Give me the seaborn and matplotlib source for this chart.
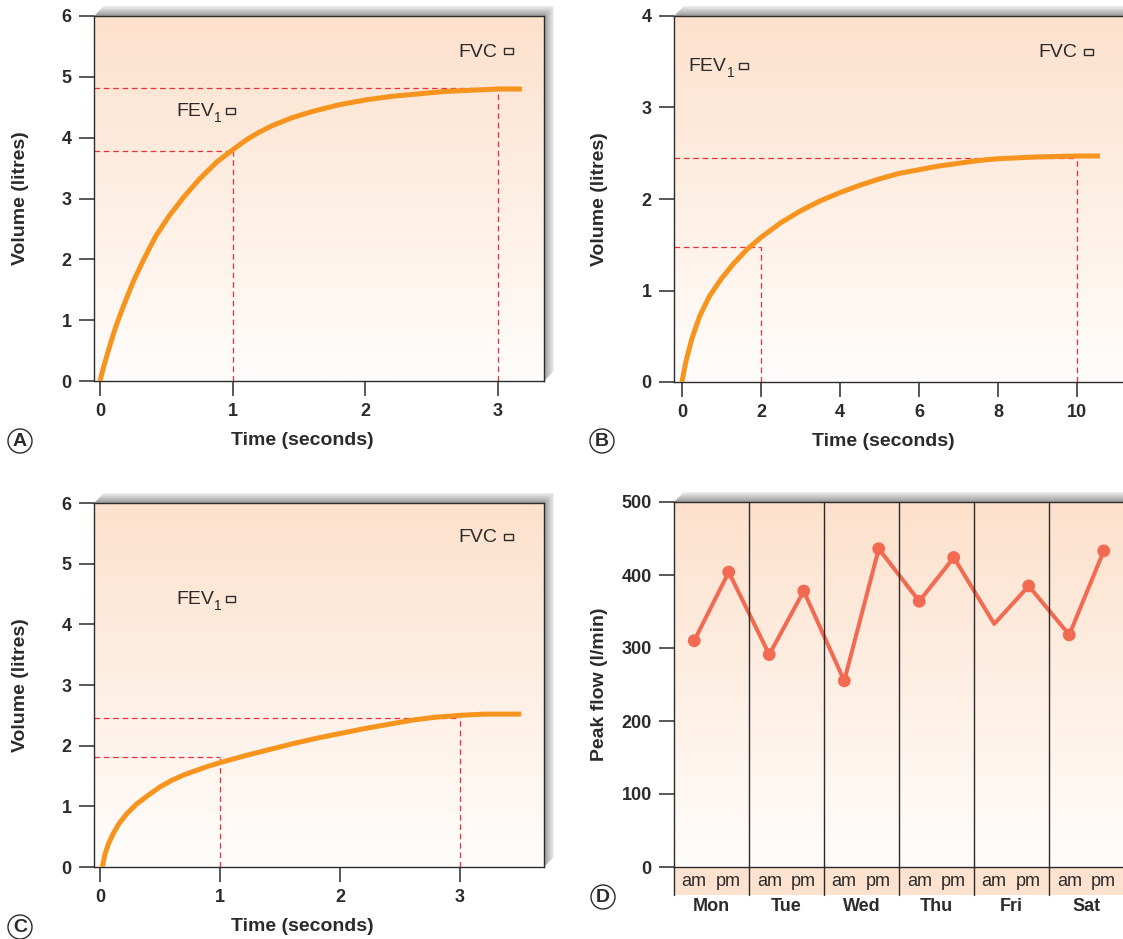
import numpy as np
import pandas as pd
import seaborn as sns
import matplotlib.pyplot as plt
import matplotlib.transforms as mtransforms
from matplotlib.colors import LinearSegmentedColormap
from matplotlib.patches import Polygon, Circle, Rectangle
from matplotlib.offsetbox import DrawingArea, AnnotationBbox

# Panel A - volume/time trace
a_time = [0, 0.03, 0.07, 0.12, 0.18, 0.25, 0.33, 0.42, 0.52, 0.63, 0.75, 0.88, 1.0,
          1.1, 1.2, 1.3, 1.45, 1.6, 1.8, 2.0, 2.2, 2.4, 2.6, 2.8, 3.0, 3.18]
a_volume = [0, 0.25, 0.55, 0.90, 1.25, 1.63, 2.0, 2.38, 2.71, 3.02, 3.32, 3.60, 3.80,
            3.96, 4.09, 4.20, 4.33, 4.43, 4.54, 4.62, 4.68, 4.72, 4.76, 4.78, 4.80, 4.80]
a_fev1 = (1, 3.78)
a_fvc = (3, 4.81)

# Panel B
b_time = [0, 0.1, 0.25, 0.45, 0.7, 1.0, 1.3, 1.65, 2.0, 2.5, 3.0, 3.5, 4.0, 4.5, 5.0,
          5.5, 6.0, 6.5, 7.0, 7.5, 8.0, 8.5, 9.0, 9.5, 10.0, 10.58]
b_volume = [0, 0.22, 0.47, 0.72, 0.94, 1.13, 1.29, 1.45, 1.58, 1.74, 1.87, 1.98, 2.07,
            2.15, 2.22, 2.28, 2.32, 2.36, 2.39, 2.42, 2.44, 2.45, 2.46, 2.465, 2.47, 2.47]
b_fev1 = (2, 1.47)
b_fvc = (10, 2.45)

# Panel C
c_time = [0.02, 0.04, 0.07, 0.11, 0.16, 0.22, 0.3, 0.4, 0.5, 0.6, 0.7, 0.8, 0.9, 1.0,
          1.2, 1.4, 1.6, 1.8, 2.0, 2.2, 2.4, 2.6, 2.8, 3.0, 3.2, 3.51]
c_volume = [0, 0.20, 0.38, 0.55, 0.72, 0.87, 1.03, 1.18, 1.32, 1.43, 1.52, 1.59, 1.66,
            1.72, 1.83, 1.93, 2.03, 2.12, 2.20, 2.28, 2.35, 2.42, 2.47, 2.50, 2.52, 2.52]
c_fev1 = (1, 1.82)
c_fvc = (3, 2.46)

# Panel D - peak flow diary
days = ['Mon', 'Tue', 'Wed', 'Thu', 'Fri', 'Sat']
sessions = ['am', 'pm']
peak_flow = [310, 404, 291, 378, 255, 436, 364, 424, 333, 385, 318, 433]
peak_marked = [True, True, True, True, True, True, True, True, False, True, True, True]

W, H = 1123, 939
ORANGE = '#f7941d'
DASH = '#ec2f3b'
CORAL = '#f26a51'
INK = '#2b2b2b'
PEACH = '#fde3cf'

sns.set_style('ticks')
plt.rcParams['font.family'] = ['Liberation Sans', 'DejaVu Sans']
plt.rcParams['axes.edgecolor'] = INK
plt.rcParams['axes.linewidth'] = 1.0

fig = plt.figure(figsize=(W / 100, H / 100), dpi=100)

# overlay in pixel coords for shadows and panel letters
ov = fig.add_axes([0, 0, 1, 1])
ov.set_xlim(0, W)
ov.set_ylim(H, 0)
ov.axis('off')
ov.patch.set_visible(False)


def px_axes(l, t, r, b):
    return fig.add_axes([l / W, 1 - b / H, (r - l) / W, (b - t) / H])


axA = px_axes(94, 16, 544, 381)
axB = px_axes(674, 16, 1130, 382)
axC = px_axes(94, 503, 544, 867)
axD = px_axes(674, 502, 1124, 867)

bg_cmap = LinearSegmentedColormap.from_list('bg', ['#fffdfc', '#fde1cc'])
shade = LinearSegmentedColormap.from_list('shade', ['#f0f0f0', '#9a9a9a'])


def add_bg(ax):
    grad = np.linspace(0, 1, 256).reshape(-1, 1)
    ax.imshow(grad, cmap=bg_cmap, origin='lower', extent=[0, 1, 0, 1],
              transform=ax.transAxes, aspect='auto', zorder=0)


def add_shadow(ax, d=10):
    bb = ax.get_position()
    l, r = bb.x0 * W, bb.x1 * W
    t, b = (1 - bb.y1) * H, (1 - bb.y0) * H
    g = np.linspace(0, 1, 64)
    top = Polygon([(l, t), (l + d, t - d), (r + d, t - d), (r, t)], closed=True,
                  fc='none', ec='none')
    ov.add_patch(top)
    im = ov.imshow(g[:, None], cmap=shade, extent=(l, r + d, t, t - d),
                   origin='upper', aspect='auto', interpolation='bilinear')
    im.set_clip_path(top)
    side = Polygon([(r, t), (r + d, t - d), (r + d, b - d), (r, b)], closed=True,
                   fc='none', ec='none')
    ov.add_patch(side)
    im2 = ov.imshow(g[::-1][None, :], cmap=shade, extent=(r, r + d, b, t - d),
                    origin='upper', aspect='auto', interpolation='bilinear')
    im2.set_clip_path(side)


def style_ticks(ax):
    ax.tick_params(length=11, width=1.1, color=INK, labelcolor=INK, labelsize=13, pad=5)
    plt.setp(ax.get_xticklabels() + ax.get_yticklabels(), fontweight='bold')


def box_after(ax, anchor, shift):
    da = DrawingArea(6.5, 4.3, 0, 0)
    da.add_artist(Rectangle((0, 0), 6.5, 4.3, fc='none', ec=INK, lw=1.0))
    ab = AnnotationBbox(da, (1, 0.55), xycoords=anchor, xybox=(shift, 0),
                        boxcoords='offset points', box_alignment=(0, 0.5),
                        frameon=False, pad=0)
    ax.add_artist(ab)


def spiro(ax, t, v, fev1, fvc, xlim, xticks, ylim, yticks, fev_pos, fvc_pos, xlab_x):
    add_bg(ax)
    x0 = xlim[0]
    for px, py in (fev1, fvc):
        ax.plot([x0, px], [py, py], color=DASH, lw=0.9, ls=(0, (4.5, 3)), zorder=2)
        ax.plot([px, px], [0, py], color=DASH, lw=0.9, ls=(0, (4.5, 3)), zorder=2)
    sns.lineplot(x=t, y=v, ax=ax, color=ORANGE, lw=3.6, estimator=None,
                 solid_capstyle='butt', solid_joinstyle='round', zorder=3)
    ax.set_xlim(*xlim)
    ax.set_ylim(*ylim)
    ax.set_xticks(xticks)
    ax.set_yticks(yticks)
    style_ticks(ax)
    ax.set_xlabel('Time (seconds)', fontsize=14, fontweight='bold', color=INK)
    ax.set_ylabel('Volume (litres)', fontsize=14, fontweight='bold', color=INK)
    ax.xaxis.set_label_coords(xlab_x, -0.14)
    ax.yaxis.set_label_coords(-0.145, 0.5)

    fev = ax.text(*fev_pos, 'FEV', transform=ax.transAxes, fontsize=14,
                  va='center', ha='left', color=INK)
    ax.annotate('1', xy=(1, 0.15), xycoords=fev, xytext=(0.5, 0),
                textcoords='offset points', fontsize=10, va='center', ha='left', color=INK)
    box_after(ax, fev, 9)
    fv = ax.text(*fvc_pos, 'FVC', transform=ax.transAxes, fontsize=14,
                 va='center', ha='left', color=INK)
    box_after(ax, fv, 5)


spiro(axA, a_time, a_volume, a_fev1, a_fvc, (-0.045, 3.346), [0, 1, 2, 3],
      (0, 6), range(0, 7), (0.182, 0.737), (0.809, 0.901), 0.464)
spiro(axB, b_time, b_volume, b_fev1, b_fvc, (-0.2, 11.34), [0, 2, 4, 6, 8, 10],
      (0, 4), range(0, 5), (0.031, 0.861), (0.798, 0.899), 0.458)
spiro(axC, c_time, c_volume, c_fev1, c_fvc, (-0.05, 3.7), [0, 1, 2, 3],
      (0, 6), range(0, 7), (0.182, 0.734), (0.809, 0.904), 0.464)

# Panel D
session_offset = {'am': 0.27, 'pm': 0.73}
df = pd.DataFrame({
    'day': np.repeat(days, len(sessions)),
    'session': sessions * len(days),
    'flow': peak_flow,
    'marked': peak_marked,
})
df['x'] = df['day'].map({d: i for i, d in enumerate(days)}) + df['session'].map(session_offset)

add_bg(axD)
sns.lineplot(data=df, x='x', y='flow', ax=axD, color=CORAL, lw=2.9, estimator=None, zorder=3)
sns.scatterplot(data=df[df['marked']], x='x', y='flow', ax=axD, color=CORAL, s=85,
                edgecolor='none', zorder=4)
axD.set_xlim(0, len(days))
axD.set_ylim(0, 500)
axD.set_yticks(range(0, 501, 100))
axD.set_xticks(np.arange(len(days)) + 0.5, days)
style_ticks(axD)
axD.tick_params(axis='x', length=0, pad=22)
axD.set_xlabel('')
axD.set_ylabel('Peak flow (l/min)', fontsize=14, fontweight='bold', color=INK)
axD.yaxis.set_label_coords(-0.147, 0.5)

band = 28 / 365
blend = mtransforms.blended_transform_factory(axD.transData, axD.transAxes)
axD.add_patch(Rectangle((0, -band), len(days), band, transform=blend, fc=PEACH,
                        ec='none', clip_on=False, zorder=1))
for k in range(1, len(days)):
    axD.axvline(k, ymin=-band, ymax=1, color=INK, lw=1.0, clip_on=False, zorder=5)
axD.axvline(0, ymin=-band, ymax=0, color=INK, lw=1.0, clip_on=False, zorder=5)
for _, row in df.iterrows():
    axD.text(row['x'], -band / 2, row['session'], transform=blend, ha='center',
             va='center', fontsize=13, color=INK)

for ax in (axA, axB, axC, axD):
    add_shadow(ax)
ov.set_xlim(0, W)
ov.set_ylim(H, 0)

# circled panel letters
for letter, (cx, cy) in zip('ABCD', [(20, 441), (602, 441), (20, 927), (603, 897)]):
    ov.add_patch(Circle((cx, cy), 12, fill=False, lw=1.0, ec=INK))
    ov.text(cx, cy, letter, ha='center', va='center', fontsize=14,
            fontweight='bold', color=INK)

fig.savefig('out.png', dpi=100)
